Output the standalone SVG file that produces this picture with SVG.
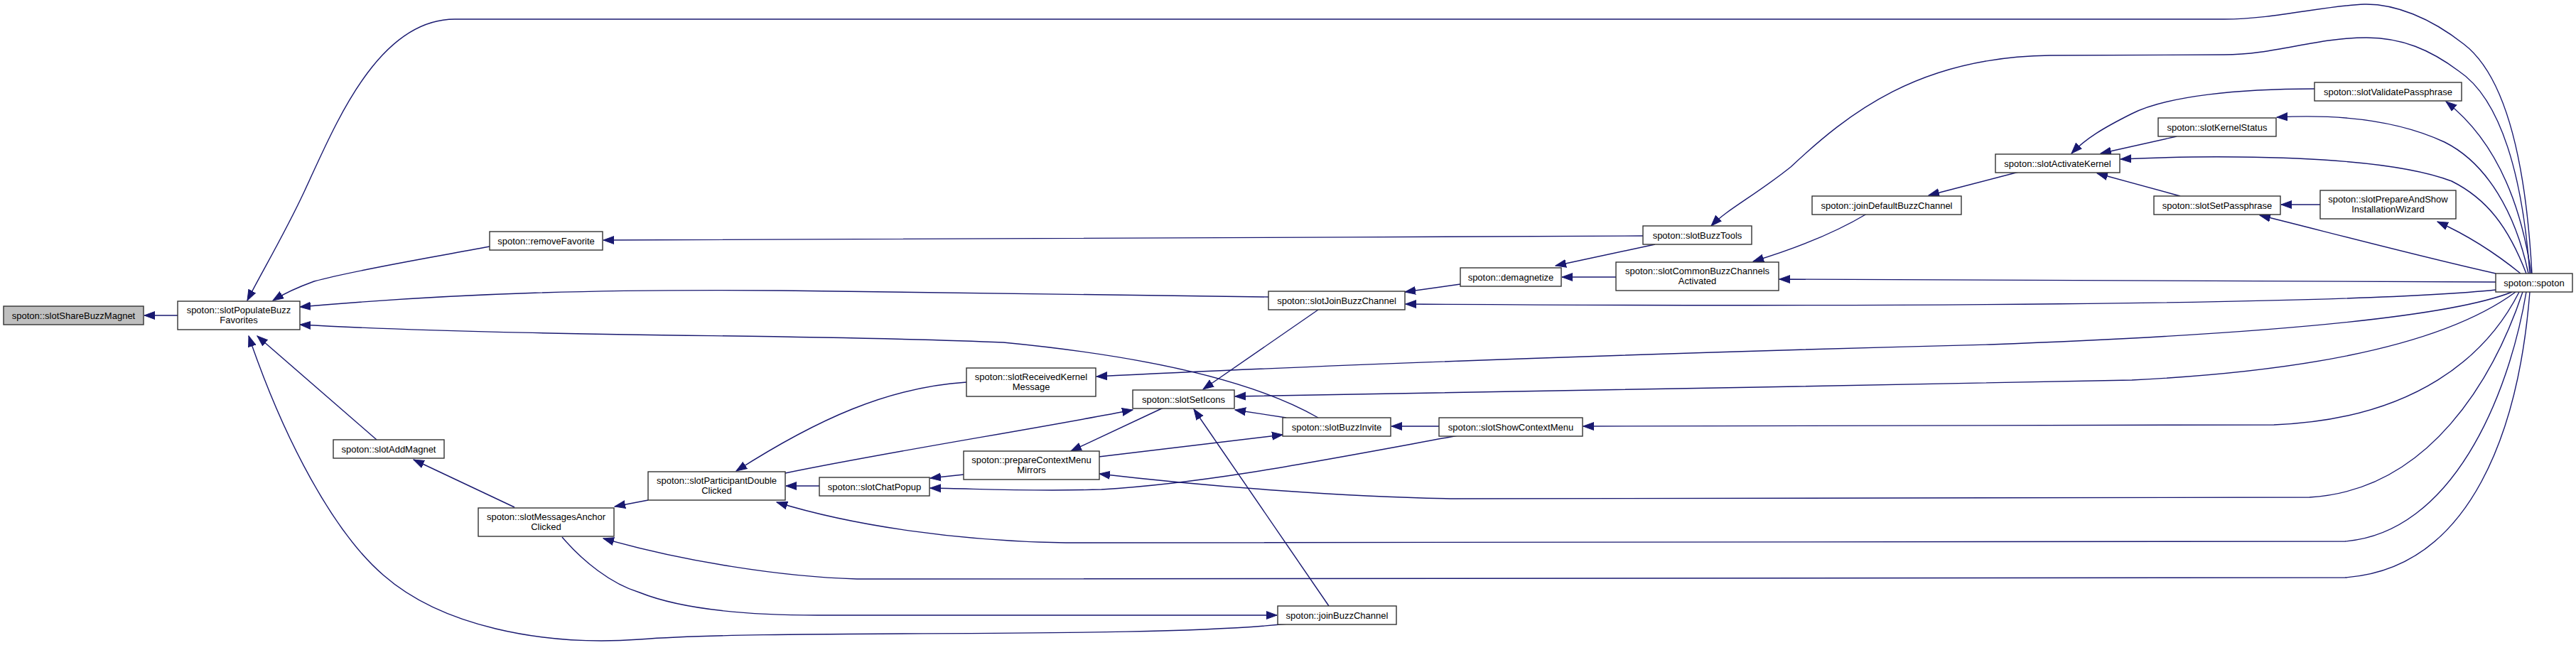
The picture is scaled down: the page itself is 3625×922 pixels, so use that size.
<svg xmlns="http://www.w3.org/2000/svg" width="3625" height="922" viewBox="0 0 3625 922">
<style>
.n rect{fill:#ffffff;stroke:#333333;stroke-width:1.4}
.n.g rect{fill:#bfbfbf}
.n text{font-family:"Liberation Sans",Arial,sans-serif;font-size:13px;fill:#000;text-anchor:middle}
.e path{fill:none;stroke:#191970;stroke-width:1.4;marker-end:url(#ah)}
</style>
<defs>
<marker id="ah" markerUnits="userSpaceOnUse" markerWidth="16" markerHeight="14" viewBox="0 -7 16 14" refX="15" refY="0" orient="auto">
<path d="M0,-5.5 L15,0 L0,5.5 z" fill="#191970" stroke="#191970" stroke-width="1"/>
</marker>
</defs>
<rect width="3625" height="922" fill="#ffffff"/>
<g id="edges" class="e">
<path d="M250,444 L203,444"/>
<path d="M3563,385 C3555,240 3530,110 3467,62 C3420,25 3370,5 3327,6 C3270,8 3200,27 3130,27 L640,27 C530,27 470,180 428,270 C400,330 370,380 348,423"/>
<path d="M689,347 C610,362 500,380 442,396 C420,404 400,413 384,423"/>
<path d="M1785,418 L1100,409 C850,407 650,412 422,432"/>
<path d="M1855,588 C1780,545 1650,505 1412,482 C1150,470 750,475 422,457"/>
<path d="M530,619 L362,473"/>
<path d="M1813,878 C1600,900 1100,885 900,900 C760,910 620,880 540,810 C470,750 400,620 350,473"/>
<path d="M724,714 L582,647"/>
<path d="M912,704 L865,713"/>
<path d="M791,756 C820,790 860,822 900,834 C960,858 1050,866 1150,866 L1797,866"/>
<path d="M3560,411 C3545,600 3480,800 3300,813 L1206,815 C1100,812 960,790 849,758"/>
<path d="M3555,411 C3530,560 3450,750 3300,762 L1500,764 C1350,762 1200,740 1093,707"/>
<path d="M1153,684 L1106,684"/>
<path d="M1105,666 C1250,636 1450,605 1594,577"/>
<path d="M1360,538 C1250,545 1150,590 1036,663"/>
<path d="M1356,668 L1309,673"/>
<path d="M2052,613 C1850,650 1700,680 1550,689 C1450,692 1380,688 1309,687"/>
<path d="M3545,411 C3500,500 3400,590 3200,598 L2228,600"/>
<path d="M2025,600 L1958,600"/>
<path d="M1546,643 L1805,612"/>
<path d="M3550,411 C3510,530 3420,690 3250,700 L2050,702 C1900,700 1700,685 1547,667"/>
<path d="M1810,588 L1738,577"/>
<path d="M1870,853 L1680,576"/>
<path d="M1637,574 L1507,635"/>
<path d="M1855,436 L1693,548"/>
<path d="M3540,411 C3460,470 3300,520 3000,535 C2600,545 2100,549 1738,558"/>
<path d="M3535,411 C3450,445 3200,470 2800,485 C2400,495 1900,512 1543,530"/>
<path d="M3512,408 C3300,430 2600,432 1978,428"/>
<path d="M2055,400 L1977,411"/>
<path d="M2329,344 L2189,374"/>
<path d="M2274,390 L2198,390"/>
<path d="M2312,332 C1800,334 1200,338 849,338"/>
<path d="M3560,385 C3550,250 3520,140 3460,100 C3420,70 3380,53 3330,53 C3260,53 3200,77 3130,77 L2885,78 C2700,80 2600,160 2520,235 C2470,275 2430,295 2408,318"/>
<path d="M2627,301 C2570,335 2510,355 2467,368"/>
<path d="M2841,242 L2714,275"/>
<path d="M3257,125 C3150,125 3050,135 3000,160 C2960,180 2935,195 2915,216"/>
<path d="M3063,192 L2956,216"/>
<path d="M3555,385 C3530,320 3500,280 3450,255 C3380,228 3250,222 3150,221 C3080,220 3030,222 2984,224"/>
<path d="M3068,276 L2951,244"/>
<path d="M3265,288 L3210,288"/>
<path d="M3512,385 C3400,360 3250,320 3180,303"/>
<path d="M3547,385 C3510,355 3470,330 3430,312"/>
<path d="M3558,385 C3540,300 3500,230 3440,200 C3380,172 3300,160 3204,165"/>
<path d="M3562,385 C3548,290 3515,200 3442,143"/>
<path d="M3512,397 L2504,393"/>
</g>
<g id="n_shareBuzzMagnet" class="n g"><rect x="5" y="431" width="197" height="26"/><text x="103.5" y="449">spoton::slotShareBuzzMagnet</text></g>
<g id="n_populateBuzzFavorites" class="n"><rect x="250" y="424" width="172" height="40"/><text x="336" y="441">spoton::slotPopulateBuzz</text><text x="336" y="455">Favorites</text></g>
<g id="n_removeFavorite" class="n"><rect x="689" y="326" width="159" height="26"/><text x="768.5" y="344">spoton::removeFavorite</text></g>
<g id="n_addMagnet" class="n"><rect x="469" y="619" width="156" height="26"/><text x="547" y="637">spoton::slotAddMagnet</text></g>
<g id="n_messagesAnchorClicked" class="n"><rect x="673" y="715" width="191" height="40"/><text x="768.5" y="732">spoton::slotMessagesAnchor</text><text x="768.5" y="746">Clicked</text></g>
<g id="n_participantDoubleClicked" class="n"><rect x="912" y="664" width="193" height="40"/><text x="1008.5" y="681">spoton::slotParticipantDouble</text><text x="1008.5" y="695">Clicked</text></g>
<g id="n_chatPopup" class="n"><rect x="1153" y="672" width="155" height="26"/><text x="1230.5" y="690">spoton::slotChatPopup</text></g>
<g id="n_receivedKernelMessage" class="n"><rect x="1360" y="518" width="182" height="40"/><text x="1451" y="535">spoton::slotReceivedKernel</text><text x="1451" y="549">Message</text></g>
<g id="n_prepareContextMenuMirrors" class="n"><rect x="1356" y="635" width="191" height="40"/><text x="1451.5" y="652">spoton::prepareContextMenu</text><text x="1451.5" y="666">Mirrors</text></g>
<g id="n_setIcons" class="n"><rect x="1594" y="549" width="143" height="26"/><text x="1665.5" y="567">spoton::slotSetIcons</text></g>
<g id="n_buzzInvite" class="n"><rect x="1805" y="588" width="152" height="26"/><text x="1881" y="606">spoton::slotBuzzInvite</text></g>
<g id="n_showContextMenu" class="n"><rect x="2025" y="588" width="202" height="26"/><text x="2126" y="606">spoton::slotShowContextMenu</text></g>
<g id="n_joinBuzzChannel" class="n"><rect x="1798" y="853" width="167" height="26"/><text x="1881.5" y="871">spoton::joinBuzzChannel</text></g>
<g id="n_slotJoinBuzzChannel" class="n"><rect x="1785" y="410" width="192" height="26"/><text x="1881" y="428">spoton::slotJoinBuzzChannel</text></g>
<g id="n_demagnetize" class="n"><rect x="2055" y="377" width="142" height="26"/><text x="2126" y="395">spoton::demagnetize</text></g>
<g id="n_buzzTools" class="n"><rect x="2312" y="318" width="153" height="26"/><text x="2388.5" y="336">spoton::slotBuzzTools</text></g>
<g id="n_commonBuzzChannelsActivated" class="n"><rect x="2274" y="369" width="229" height="40"/><text x="2388.5" y="386">spoton::slotCommonBuzzChannels</text><text x="2388.5" y="400">Activated</text></g>
<g id="n_joinDefaultBuzzChannel" class="n"><rect x="2550" y="276" width="210" height="26"/><text x="2655" y="294">spoton::joinDefaultBuzzChannel</text></g>
<g id="n_activateKernel" class="n"><rect x="2808" y="217" width="175" height="26"/><text x="2895.5" y="235">spoton::slotActivateKernel</text></g>
<g id="n_kernelStatus" class="n"><rect x="3037" y="166" width="166" height="26"/><text x="3120" y="184">spoton::slotKernelStatus</text></g>
<g id="n_setPassphrase" class="n"><rect x="3031" y="276" width="178" height="26"/><text x="3120" y="294">spoton::slotSetPassphrase</text></g>
<g id="n_validatePassphrase" class="n"><rect x="3257" y="116" width="207" height="26"/><text x="3360.5" y="134">spoton::slotValidatePassphrase</text></g>
<g id="n_prepareAndShowInstallationWizard" class="n"><rect x="3265" y="268" width="191" height="40"/><text x="3360.5" y="285">spoton::slotPrepareAndShow</text><text x="3360.5" y="299">InstallationWizard</text></g>
<g id="n_spoton" class="n"><rect x="3512" y="385" width="108" height="26"/><text x="3566" y="403">spoton::spoton</text></g>
</svg>
